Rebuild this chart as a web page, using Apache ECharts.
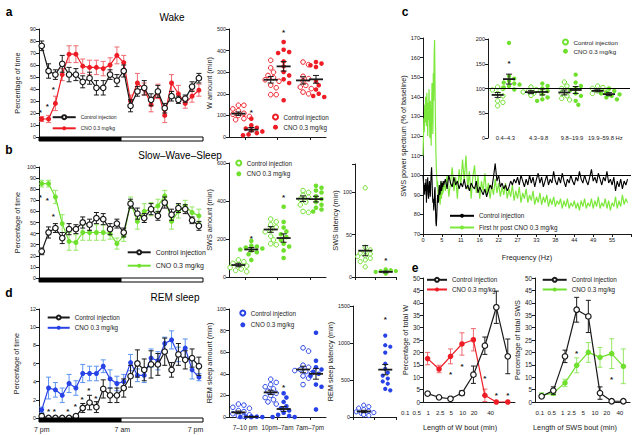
<!DOCTYPE html>
<html>
<head>
<meta charset="utf-8">
<title>Sleep–wake figure</title>
<script src="https://cdn.jsdelivr.net/npm/echarts@6.0.0/dist/echarts.min.js"></script>
<style>
html,body{margin:0;padding:0;background:#ffffff;}
#chart{width:637px;height:435px;}
</style>
</head>
<body>
<div id="chart"></div>
<script>
// ================= DATA =================
// Hourly bins starting 7 pm (24 h)
const hourBins = [0,1,2,3,4,5,6,7,8,9,10,11,12,13,14,15,16,17,18,19,20,21,22,23];
const phaseNames = ['dark', 'light'];
const phaseEdges = [-0.4, 11.6, 23.6];
const dayTickLabels = ['7 pm', '7 am', '7 pm'];
const dayTickPos = [0, 11.8, 22.5];

// a – Wake (% of time)
const wakeCtrl    = [76,55,52,61,52,52,46,49,41,41,52,47,55,26,38,41,31,38,24,34,31,32,42,49];
const wakeCtrlSem = [4,6,4,7,6,5,5,5,6,6,4,5,5,5,4,6,5,5,4,4,3,3,4,4];
const wakeCno     = [15,15,28,52,69,69,59,58,58,57,60,68,62,30,45,40,27,38,18,45,36,28,34,39];
const wakeCnoSem  = [2,3,6,5,7,7,6,6,6,6,6,7,6,5,8,5,6,6,6,7,7,4,5,5];
const wakeStars   = [[-0.2,22],[0.8,27],[1.7,41]];

// b – SWS (% of time)
const swsCtrl    = [24,41,45,36,44,44,50,48,54,53,44,49,41,67,58,54,62,56,68,57,63,62,52,47];
const swsCtrlSem = [3,5,4,5,5,4,5,5,5,5,5,4,4,4,5,4,5,4,5,5,4,4,3,4];
const swsCno     = [85,85,73,49,33,32,41,41,41,41,40,31,38,68,51,60,62,65,74,51,60,65,59,56];
const swsCnoSem  = [3,3,6,8,8,7,7,7,7,7,5,5,5,5,7,7,6,6,5,7,6,5,5,6];
const swsStars   = [[-0.2,74],[0.8,72],[1.7,57]];

// d – REM (% of time)
const remCtrl    = [0.2,0,0,0,0,0.2,1.1,1.7,1.2,3.2,2.5,2.5,3.3,4.6,6.0,5.3,5.9,5.9,7.3,5.3,7.0,6.4,6.6,5.7];
const remCtrlSem = [0.3,0,0,0,0,0.2,0.5,0.8,0.6,1.0,0.8,0.8,1.0,1.2,1.5,1.2,1.5,1.2,1.5,0.8,1.2,1.0,1.0,1.0];
const remCno     = [0.9,3.3,3.1,2.5,3.8,3.3,4.9,4.9,4.9,5.7,4.3,3.8,4.0,6.1,4.7,4.7,6.6,6.3,8.2,8.6,7.0,7.7,5.3,4.5];
const remCnoSem  = [0.3,1.2,0.8,0.8,1.0,0.8,1.0,0.8,0.8,0.7,1.0,0.8,0.8,0.9,0.7,0.8,1.0,1.0,0.7,1.0,0.8,1.0,1.0,0.4];
const remStars   = [[1,0.9],[1.85,0.9],[3.8,0.9],[4.9,1.5],[5.9,2.3],[6.9,3.3],[7.9,2.4]];

// Individual amounts per period
const periodLabels = ['7–10 pm', '10pm–7am', '7am–7pm'];
const wAmtCtrl = [[147,147,130,122,110,105,100,95,90,85,80],[355,320,300,285,275,265,258,240,228,196,196],[347,335,281,270,259,239,231,224,208,200]];
const wAmtCno  = [[85,54,43,39,31,26,18,12,8],[440,404,393,389,350,327,301,285,267,250,170],[347,340,332,324,258,240,220,200,190,185]];
const wAmtCtrlMean = [108,265,262], wAmtCtrlSem = [8,15,17];
const wAmtCnoMean  = [34,327,267],  wAmtCnoSem  = [10,22,18];
const wAmtStars = [[0.19,124],[1.19,494]];

const swsAmtCtrl = [[90,80,72,65,58,50,42,35,28],[305,290,275,262,250,238,215,195,175,170],[455,445,430,420,410,395,380,345,340]];
const swsAmtCno  = [[190,165,160,155,150,145,140,130,120,90],[370,290,260,240,225,210,195,175,160,140,100],[480,470,455,445,425,410,395,380,365,355,345]];
const swsAmtCtrlMean = [63,250,412], swsAmtCtrlSem = [9,15,15];
const swsAmtCnoMean  = [145,205,410], swsAmtCnoSem = [10,22,15];
const swsAmtStars = [[0.19,212],[1.19,430]];

const swsLatCtrl = [105,35,32,30,28,27,25,24,22,20,18,12];
const swsLatCno  = [9,8,7,7,6,6,5,5,5,4];
const swsLatMean = [31,6], swsLatSem = [6,1];
const swsLatStars = [[1,22]];

const remAmtCtrl = [[12,11,9,8,6,5,3,2,1,0.5,0],[35,32,30,28,26,24,22,20,18,16,14,12],[64,61,48,46,44,43,42,40,38,36,30]];
const remAmtCno  = [[0.5,0.3,0.2,0,0,0,0],[22,18,14,10,8,6,4,2,1,0,0],[78,52,46,44,42,40,38,30,28,7]];
const remAmtCtrlMean = [4.3,22.8,44], remAmtCtrlSem = [1.2,2,3];
const remAmtCnoMean  = [0.2,7.4,40],  remAmtCnoSem  = [0.1,2.2,5];
const remAmtStars = [[1.19,29]];

const remLatCtrl = [160,140,120,100,80,70,60,50,40,30,20];
const remLatCno  = [1100,970,950,870,720,650,600,560,520,480,450,380,360];
const remLatMean = [75,640], remLatSem = [15,70];
const remLatStars = [[1,1340]];

// c – SWS power spectrum (% of baseline); 0–5.875 Hz every 0.125 Hz, then 6–59.5 Hz every 0.5 Hz
const specCtrlLow = [
  100,97,93,95,90,96,92,98,
  86,92,95,99,90,88,94,97,
  92,89,96,101,104,98,90,86,
  88,82,85,92,94,84,76,74,
  79,85,90,87,86,92,95,90,
  91,94,97,92,93,96,94,97];
const specCtrlHigh = [
  95,98,93,100,96,94,99,95,97,93,
  96,94,98,93,95,92,96,94,93,97,
  91,94,92,90,93,89,92,95,93,99,
  106,97,100,94,96,93,95,92,94,97,
  95,98,96,99,95,100,97,94,98,95,
  100,96,99,94,98,101,96,99,94,97,
  100,95,98,96,102,97,95,99,96,101,
  97,94,98,96,100,97,95,99,97,102,
  98,96,100,97,95,99,103,97,99,96,
  101,98,95,99,97,102,96,98,95,99,
  92,97,94,98,93,97,95,98];
const specCnoLow = [
  110,118,129,122,136,127,140,131,
  125,142,133,120,137,128,144,130,
  119,138,126,115,132,147,135,121,
  152,138,162,169,145,126,112,104,
  99,94,97,90,93,87,95,89,
  85,92,97,88,94,90,96,91];
const specCnoHigh = [
  97,92,100,89,96,104,92,99,88,103,
  95,108,97,110,93,102,88,99,105,91,
  100,88,97,92,101,90,96,88,95,90,
  98,91,96,89,94,90,96,88,93,89,
  95,87,92,88,94,86,91,88,93,86,
  90,87,92,85,89,86,91,85,89,86,
  90,84,88,85,89,84,87,85,88,83,
  87,84,88,83,86,84,87,83,86,82,
  87,84,88,83,86,84,88,83,87,84,
  89,83,86,84,88,83,87,82,86,84,
  89,83,87,84,90,85,88,86];

// c inset – band power
const bandLabels = ['0.4–4.3', '4.3–9.8', '9.8–19.9', '19.9–59.8 Hz'];
const bandCtrl = [[103,100,97,90,85,75,72,65],[103,98,95,93,92,90,88,86],[113,105,100,95,90,85,80,77],[105,102,100,98,95,92,90,88]];
const bandCno  = [[192,125,120,115,112,110,108,105,102,98],[110,105,100,95,88,82,78,75],[128,112,105,100,97,90,85,75,67],[100,95,92,90,88,85,82,78]];
const bandCtrlMean = [87,92.6,92,95.3], bandCtrlSem = [5,3,5,2];
const bandCnoMean  = [119,93,97,88.6],  bandCnoSem  = [10,6,7,3];
const bandStars = [[0.17,154]];

// e – bout length distributions
const boutBins = [0,1,2,3,4,5,6,7];
const boutTickLabels = ['0.1','0.5','1','2.5','5','10','20','40'];
const wBoutTickPos = [-1.95,-0.95,0.06,1.1,2.06,3.06,4.06,5.5];
const swsBoutTickPos = [-0.15,0.86,1.8,2.57,3.57,4.57,5.57,6.7];
const wBoutCtrl    = [3.4,1.9,1.3,3.6,11,22.7,38.2,18.4];
const wBoutCtrlSem = [0.5,0.3,0.3,1,3.5,3.5,6.5,7];
const wBoutCno     = [17.5,13.3,18.4,23.4,25.1,2.7,0,0];
const wBoutCnoSem  = [2.5,1.5,3,4.5,4.5,2.5,0,0];
const wBoutStars   = [[2,11.7],[3,15],[5,10.3],[6,3.4],[7,3.4]];
const swsBoutCtrl    = [2.3,4.6,18.4,37.2,34.5,3.6,0.3,0.3];
const swsBoutCtrlSem = [0.5,1.5,2.5,5,6.5,2.5,0,0];
const swsBoutCno     = [2.7,3.6,7.7,14.8,20,18,19.5,14.4];
const swsBoutCnoSem  = [1,1,1.5,3,4,4,6,7];
const swsBoutStars   = [[3,20.4],[6,10]];

// ================= BUILD =================
const FONT = "'Liberation Sans', Arial, Helvetica, sans-serif";
const INK = '#1a1a1a';
const RED = '#ee1c25', RED_ERR = '#f06a70';
const GREEN = '#6fe02e', GREEN_ERR = '#94e865';
const BLUE = '#2742e6', BLUE_ERR = '#5a93f0';
const SPEC_GREEN = '#7de83c';
const TITLE_FS = 7.3;
const TICK_FS = 5.4;

const LEGEND_TEXT = {
  aCtrl:'Control injection', aCno:'CNO 0.3 mg/kg',
  bCtrl:'Control injection', bCno:'CNO 0.3 mg/kg',
  dCtrl:'Control injection', dCno:'CNO 0.3 mg/kg',
  asCtrl:'Control injection', asCno:'CNO 0.3 mg/kg',
  bsCtrl:'Control injection', bsCno:'CNO 0.3 mg/kg',
  dsCtrl:'Control injection', dsCno:'CNO 0.3 mg/kg',
  cCtrl:'Control injection', cCno:'First hr post CNO 0.3 mg/kg',
  ciCtrl:'Control injection', ciCno:'CNO 0.3 mg/kg',
  ewCtrl:'Control injection', ewCno:'CNO 0.3 mg/kg',
  esCtrl:'Control injection', esCno:'CNO 0.3 mg/kg'
};

const G = {
  aLine:{left:39, top:29, width:164, height:108},
  bLine:{left:39, top:167, width:164, height:111},
  dLine:{left:39, top:309, width:164, height:109},
  aSc:{left:229, top:29, width:97, height:108},
  bSc:{left:229, top:163, width:97, height:114},
  bLat:{left:355, top:164, width:41, height:113},
  dSc:{left:229, top:309, width:97, height:108},
  dLat:{left:353, top:306, width:43, height:111},
  cSp:{left:423, top:38, width:208, height:196},
  cIn:{left:488, top:39, width:142, height:99},
  eW:{left:423, top:278, width:92, height:124},
  eS:{left:535, top:278, width:95, height:124}
};

const grids = [], xAxis = [], yAxis = [], series = [], legend = [], graphic = [];

function addGrid(g){ grids.push(Object.assign({containLabel:false}, g)); return grids.length - 1; }
function axisStyle(fs){
  return {
    axisLine:{show:true, onZero:false, lineStyle:{color:INK, width:1}},
    axisTick:{show:true, length:3, lineStyle:{color:INK, width:1}},
    axisLabel:{fontSize:fs || TICK_FS, color:INK, fontFamily:FONT, margin:3},
    splitLine:{show:false}
  };
}
function hiddenX(gi, min, max){
  xAxis.push({type:'value', gridIndex:gi, min:min, max:max, show:false, splitLine:{show:false}, axisLine:{onZero:false}});
  return xAxis.length - 1;
}
function catX(gi, cats, showLabels, align){
  const a = Object.assign({type:'category', gridIndex:gi, data:cats, boundaryGap:true, position:'bottom'}, axisStyle(6.4));
  a.axisTick.alignWithLabel = align;
  a.axisLabel.show = showLabels;
  a.axisLabel.margin = 7;
  a.axisLabel.interval = 0;
  xAxis.push(a); return xAxis.length - 1;
}
function valueY(gi, min, max, interval, name, nameGap, fmt, fs){
  const a = Object.assign({type:'value', gridIndex:gi, min:min, max:max, interval:interval,
    name:name, nameLocation:'middle', nameGap:nameGap, nameRotate:90,
    nameTextStyle:{fontSize:TITLE_FS, color:INK, fontFamily:FONT}}, axisStyle(fs));
  if (fmt) a.axisLabel.formatter = fmt;
  yAxis.push(a); return yAxis.length - 1;
}

function errBars(xi, yi, xs, ys, sems, color, cap, z){
  series.push({type:'custom', xAxisIndex:xi, yAxisIndex:yi, silent:true, z:z,
    data: xs.map((x,i)=>[x, ys[i], sems[i]]),
    renderItem: function(params, api){
      const x = api.value(0), y = api.value(1), s = api.value(2);
      if (!(s > 0)) return {type:'group', children:[]};
      const t = api.coord([x, y + s]), b = api.coord([x, y - s]);
      return {type:'group', children:[
        {type:'line', shape:{x1:t[0], y1:t[1], x2:b[0], y2:b[1]}, style:{stroke:color, lineWidth:1}},
        {type:'line', shape:{x1:t[0]-cap, y1:t[1], x2:t[0]+cap, y2:t[1]}, style:{stroke:color, lineWidth:1}},
        {type:'line', shape:{x1:b[0]-cap, y1:b[1], x2:b[0]+cap, y2:b[1]}, style:{stroke:color, lineWidth:1}}
      ]};
    }});
}
function lineSeries(name, xi, yi, xs, ys, color, open, size, z){
  series.push({type:'line', name:name, xAxisIndex:xi, yAxisIndex:yi,
    data: xs.map((x,i)=>[x, ys[i]]),
    symbol:'circle', symbolSize:size, showSymbol:true, z:z,
    itemStyle: open ? {color:'#ffffff', borderColor:color, borderWidth:1.2} : {color:color, borderColor:color, borderWidth:0},
    lineStyle:{color:color, width:1.2}, emphasis:{disabled:true}});
}
function textMarks(xi, yi, pts, labels, font, dx, dy, z){
  series.push({type:'custom', xAxisIndex:xi, yAxisIndex:yi, silent:true, z:z || 10,
    data: pts.map((p,i)=>[p[0], p[1], i]),
    renderItem: function(params, api){
      const c = api.coord([api.value(0), api.value(1)]);
      const lab = labels[api.value(2)];
      return {type:'text', x:c[0] + dx, y:c[1] + dy,
        style:{text:lab, font:font, fill:INK, align:'center', verticalAlign:'middle', textAlign:'center', textVerticalAlign:'middle'}};
    }});
}
function stars(xi, yi, pts){
  textMarks(xi, yi, pts, pts.map(()=>'*'), 'bold 8px ' + FONT, 0, 2, 12);
}
function phaseBar(xi, yi){
  series.push({type:'custom', xAxisIndex:xi, yAxisIndex:yi, silent:true, z:6,
    data: phaseNames.map((n,i)=>[phaseEdges[i], phaseEdges[i+1], i]),
    renderItem: function(params, api){
      const p0 = api.coord([api.value(0), 0]), p1 = api.coord([api.value(1), 0]);
      const dark = api.value(2) === 0;
      return {type:'rect', shape:{x:p0[0], y:p0[1], width:p1[0]-p0[0], height:4},
        style:{fill: dark ? '#000000' : '#ffffff', stroke:'#000000', lineWidth:1}};
    }});
}
function dodge(vals, pxPerY, d){
  const order = vals.map((v,i)=>i).sort((a,b)=>vals[b]-vals[a]);
  const placed = [], off = vals.map(()=>0);
  const step = d * 0.6;
  const cands = [0, step, -step, 2*step, -2*step, 3*step, -3*step, 4*step, -4*step];
  order.forEach(i=>{
    const y = vals[i] * pxPerY;
    for (const c of cands){
      if (placed.every(p=>Math.hypot(p[0]-c, p[1]-y) >= d)) { off[i] = c; placed.push([c, y]); return; }
    }
    off[i] = 0; placed.push([0, y]);
  });
  return off;
}
function groupScatter(name, xi, yi, groups, offset, g, xr, yr, color, open, size){
  const pxY = g.height / (yr[1]-yr[0]), pxX = g.width / (xr[1]-xr[0]);
  const data = [];
  groups.forEach((vals, gi)=>{
    const off = dodge(vals, pxY, size);
    vals.forEach((v,i)=>data.push([gi + offset + off[i]/pxX, v]));
  });
  series.push({type:'scatter', name:name, xAxisIndex:xi, yAxisIndex:yi, data:data,
    symbol:'circle', symbolSize:size, z:4, emphasis:{disabled:true},
    itemStyle: open ? {color:'#ffffff', borderColor:color, borderWidth:1, opacity:1} : {color:color, opacity:1}});
}
function meanSem(xi, yi, xs, means, sems, half){
  series.push({type:'custom', xAxisIndex:xi, yAxisIndex:yi, silent:true, z:8,
    data: xs.map((x,i)=>[x, means[i], sems[i]]),
    renderItem: function(params, api){
      const x = api.value(0), m = api.value(1), s = api.value(2);
      const c = api.coord([x, m]), t = api.coord([x, m + s]), b = api.coord([x, m - s]);
      return {type:'group', children:[
        {type:'line', shape:{x1:c[0]-half, y1:c[1], x2:c[0]+half, y2:c[1]}, style:{stroke:INK, lineWidth:1.8}},
        {type:'line', shape:{x1:t[0], y1:t[1], x2:b[0], y2:b[1]}, style:{stroke:INK, lineWidth:1}},
        {type:'line', shape:{x1:t[0]-3, y1:t[1], x2:t[0]+3, y2:t[1]}, style:{stroke:INK, lineWidth:1}},
        {type:'line', shape:{x1:b[0]-3, y1:b[1], x2:b[0]+3, y2:b[1]}, style:{stroke:INK, lineWidth:1}}
      ]};
    }});
}
// lg = [left, top, gap, itemWidth, fontSize]
function addLegend(lg, names, icon){
  legend.push({left:lg[0], top:lg[1], orient:'vertical', itemGap:lg[2], itemWidth:lg[3], itemHeight:5, padding:0,
    selectedMode:false,
    data: names.map(n => icon ? {name:n, icon:icon} : {name:n}),
    formatter: function(n){ return LEGEND_TEXT[n]; },
    textStyle:{fontSize:lg[4], color:INK, fontFamily:FONT}});
}
function label(text, x, y, font){
  graphic.push({type:'text', x:x, y:y, silent:true,
    style:{text:text, font:font, fill:'#000', align:'center', verticalAlign:'middle', textAlign:'center', textVerticalAlign:'middle'}});
}

// ---------- hourly line panels ----------
function hourlyPanel(g, ymax, yint, ctrl, ctrlSem, cno, cnoSem, color, errColor, keys, starPts, lg, nameGap){
  const gi = addGrid(g);
  const xi = hiddenX(gi, -0.4, 23.6);
  const yi = valueY(gi, 0, ymax, yint, 'Percentage of time', nameGap);
  phaseBar(xi, yi);
  errBars(xi, yi, hourBins, cno, cnoSem, errColor, 2.5, 2);
  lineSeries(keys[1], xi, yi, hourBins, cno, color, false, 5, 3);
  errBars(xi, yi, hourBins, ctrl, ctrlSem, INK, 2.5, 4);
  lineSeries(keys[0], xi, yi, hourBins, ctrl, INK, true, 5.5, 5);
  stars(xi, yi, starPts);
  addLegend(lg, keys);
  return {xi:xi, yi:yi};
}
hourlyPanel(G.aLine, 90, 10, wakeCtrl, wakeCtrlSem, wakeCno, wakeCnoSem, RED, RED_ERR, ['aCtrl','aCno'], wakeStars, [51.7,114.2,5.6,23,5], 18);
hourlyPanel(G.bLine, 100, 10, swsCtrl, swsCtrlSem, swsCno, swsCnoSem, GREEN, GREEN_ERR, ['bCtrl','bCno'], swsStars, [126.7,248.8,6.4,23,7], 18);
const dAx = hourlyPanel(G.dLine, 12, 2, remCtrl, remCtrlSem, remCno, remCnoSem, BLUE, BLUE_ERR, ['dCtrl','dCno'], remStars, [46.7,314.5,4.3,22,6.3], 19);
textMarks(dAx.xi, dAx.yi, dayTickPos.map(p=>[p,0]), dayTickLabels, '7px ' + FONT, 0, 11, 12);

// ---------- period scatter panels ----------
function periodPanel(g, ymax, yint, yName, nameGap, ctrl, cno, cMean, cSem, nMean, nSem, color, keys, starPts, lg, showLabels){
  const gi = addGrid(g);
  catX(gi, periodLabels, showLabels, true);
  const xi = hiddenX(gi, -0.5, 2.5);
  const yi = valueY(gi, 0, ymax, yint, yName, nameGap);
  groupScatter(keys[0], xi, yi, ctrl, -0.21, g, [-0.5,2.5], [0,ymax], color, true, 4.6);
  groupScatter(keys[1], xi, yi, cno, 0.19, g, [-0.5,2.5], [0,ymax], color, false, 4.6);
  meanSem(xi, yi, [0,1,2].map(v=>v-0.21), cMean, cSem, 7);
  meanSem(xi, yi, [0,1,2].map(v=>v+0.19), nMean, nSem, 7);
  stars(xi, yi, starPts);
  addLegend(lg, keys, 'circle');
}
periodPanel(G.aSc, 500, 100, 'W amount (min)', 15, wAmtCtrl, wAmtCno, wAmtCtrlMean, wAmtCtrlSem, wAmtCnoMean, wAmtCnoSem, RED, ['asCtrl','asCno'], wAmtStars, [272,113.5,3.7,6,6.3], false);
periodPanel(G.bSc, 600, 200, 'SWS amount (min)', 15, swsAmtCtrl, swsAmtCno, swsAmtCtrlMean, swsAmtCtrlSem, swsAmtCnoMean, swsAmtCnoSem, GREEN, ['bsCtrl','bsCno'], swsAmtStars, [235.3,159.5,4.3,6,6.3], false);
periodPanel(G.dSc, 100, 20, 'REM sleep amount (min)', 15, remAmtCtrl, remAmtCno, remAmtCtrlMean, remAmtCtrlSem, remAmtCnoMean, remAmtCnoSem, BLUE, ['dsCtrl','dsCno'], remAmtStars, [239.3,309.5,5.3,6,6.3], true);

// ---------- latency panels ----------
function latencyPanel(g, ymax, yint, yName, nameGap, ctrl, cno, means, sems, color, starPts){
  const gi = addGrid(g);
  catX(gi, ['Control injection','CNO 0.3 mg/kg'], false, false);
  const xi = hiddenX(gi, -0.5, 1.5);
  const yi = valueY(gi, 0, ymax, yint, yName, nameGap, function(v){ return (v % yint === 0) ? v : ''; });
  groupScatter(yName + ' ctrl', xi, yi, [ctrl], 0, g, [-0.5,1.5], [0,ymax], color, true, 4.2);
  groupScatter(yName + ' cno', xi, yi, [cno], 1, g, [-0.5,1.5], [0,ymax], color, false, 4.2);
  meanSem(xi, yi, [0,1], means, sems, 7);
  stars(xi, yi, starPts);
}
latencyPanel(G.bLat, 133, 50, 'SWS latency (min)', 13, swsLatCtrl, swsLatCno, swsLatMean, swsLatSem, GREEN, swsLatStars);
latencyPanel(G.dLat, 1500, 500, 'REM sleep latency (min)', 12, remLatCtrl, remLatCno, remLatMean, remLatSem, BLUE, remLatStars);

// ---------- c: spectrum ----------
(function(){
  const gi = addGrid(G.cSp);
  const xa = Object.assign({type:'value', gridIndex:gi, min:0, max:60.5, interval:5.5,
    name:'Frequency (Hz)', nameLocation:'middle', nameGap:20,
    nameTextStyle:{fontSize:TITLE_FS, color:INK, fontFamily:FONT}}, axisStyle(5.6));
  xa.axisLabel.formatter = function(v){ return v > 56 ? '' : String(Math.floor(v + 1e-9)); };
  xAxis.push(xa); const xi = xAxis.length - 1;
  const yi = valueY(gi, 70, 170, 10, 'SWS power spectrum (% of baseline)', 16, null, 5.6);
  const freq = [];
  for (let i = 0; i < specCtrlLow.length; i++) freq.push(i * 0.125);
  for (let i = 0; i < specCtrlHigh.length; i++) freq.push(6 + i * 0.5);
  const ctrl = specCtrlLow.concat(specCtrlHigh);
  const cno = specCnoLow.concat(specCnoHigh);
  series.push({type:'line', name:'cCno', xAxisIndex:xi, yAxisIndex:yi, symbol:'none', z:2,
    data: freq.map((f,i)=>[f, cno[i]]), lineStyle:{color:SPEC_GREEN, width:1.2}, itemStyle:{color:SPEC_GREEN}, emphasis:{disabled:true}});
  series.push({type:'line', name:'cCtrl', xAxisIndex:xi, yAxisIndex:yi, symbol:'none', z:3,
    data: freq.map((f,i)=>[f, ctrl[i]]), lineStyle:{color:'#000', width:1.1}, itemStyle:{color:'#000'}, emphasis:{disabled:true},
    markLine:{silent:true, symbol:'none', label:{show:false}, lineStyle:{color:'#000', width:1.2, type:'solid'}, data:[{yAxis:100}]}});
  addLegend([449,212.8,5.7,24,6.3], ['cCtrl','cCno']);
})();

// ---------- c inset ----------
(function(){
  const g = G.cIn;
  const gi = addGrid(g);
  const xr = [-0.46, 3.8];
  const xi = hiddenX(gi, xr[0], xr[1]);
  const yi = valueY(gi, 0, 200, 50, '', 10, null, 5.6);
  groupScatter('ciCtrl', xi, yi, bandCtrl, -0.17, g, xr, [0,200], GREEN, true, 4.4);
  groupScatter('ciCno', xi, yi, bandCno, 0.17, g, xr, [0,200], GREEN, false, 4.4);
  series[series.length-1].markLine = {silent:true, symbol:'none', label:{show:false}, lineStyle:{color:'#000', width:1, type:'solid'}, data:[{yAxis:100}]};
  meanSem(xi, yi, [0,1,2,3].map(v=>v-0.17), bandCtrlMean, bandCtrlSem, 6);
  meanSem(xi, yi, [0,1,2,3].map(v=>v+0.17), bandCnoMean, bandCnoSem, 6);
  stars(xi, yi, bandStars);
  textMarks(xi, yi, [0,1,2,3].map(v=>[v,0]), bandLabels, '5.8px ' + FONT, 2, 0, 12);
  addLegend([562,38.5,2.7,6,6.2], ['ciCtrl','ciCno'], 'circle');
})();

// ---------- e: bout distributions ----------
function boutPanel(g, xr, ctrl, ctrlSem, cno, cnoSem, color, errColor, keys, starPts, tickPos, xName, namePad, yName, lg){
  const gi = addGrid(g);
  const xa = Object.assign({type:'value', gridIndex:gi, min:xr[0], max:xr[1],
    name:xName, nameLocation:'middle', nameGap:22,
    nameTextStyle:{fontSize:TITLE_FS, color:INK, fontFamily:FONT, padding:[0, namePad, 0, 0]}}, axisStyle(6.4));
  xa.axisTick.show = false; xa.axisLabel.show = false;
  xAxis.push(xa); const xi = xAxis.length - 1;
  const yi = valueY(gi, 0, 50, 5, yName, 14, null, 6.4);
  errBars(xi, yi, boutBins, cno, cnoSem, errColor, 2.5, 2);
  lineSeries(keys[1], xi, yi, boutBins, cno, color, false, 5.5, 3);
  errBars(xi, yi, boutBins, ctrl, ctrlSem, INK, 2.5, 4);
  lineSeries(keys[0], xi, yi, boutBins, ctrl, INK, true, 5.5, 5);
  stars(xi, yi, starPts);
  textMarks(xi, yi, tickPos.map(p=>[p,0]), boutTickLabels, '6.2px ' + FONT, 0, 10.5, 12);
  addLegend(lg, keys);
}
boutPanel(G.eW, [-0.4, 7.63], wBoutCtrl, wBoutCtrlSem, wBoutCno, wBoutCnoSem, RED, RED_ERR, ['ewCtrl','ewCno'], wBoutStars, wBoutTickPos, 'Length of W bout (min)', 18, 'Percentage of total W', [426,276.8,3.7,20,6.3]);
boutPanel(G.eS, [-0.57, 7.57], swsBoutCtrl, swsBoutCtrlSem, swsBoutCno, swsBoutCnoSem, GREEN, GREEN_ERR, ['esCtrl','esCno'], swsBoutStars, swsBoutTickPos, 'Length of SWS bout (min)', 15, 'Percentage of total SWS', [541.7,276.8,3.7,24,6.3]);

// ---------- panel letters and titles ----------
const BOLD = 'bold 12px ' + FONT;
label('a', 9, 12, BOLD);
label('b', 9, 150, BOLD);
label('c', 405, 12, BOLD);
label('d', 9, 293, BOLD);
label('e', 415, 268, BOLD);
label('Wake', 172, 17, '10px ' + FONT);
label('Slow–Wave–Sleep', 180, 155, '10px ' + FONT);
label('REM sleep', 175, 297, '10px ' + FONT);

const chart = echarts.init(document.getElementById('chart'), null, {renderer:'svg'});
chart.setOption({
  animation:false,
  backgroundColor:'#ffffff',
  textStyle:{fontFamily:FONT},
  grid:grids, xAxis:xAxis, yAxis:yAxis, series:series, legend:legend, graphic:graphic
});
</script>
</body>
</html>
